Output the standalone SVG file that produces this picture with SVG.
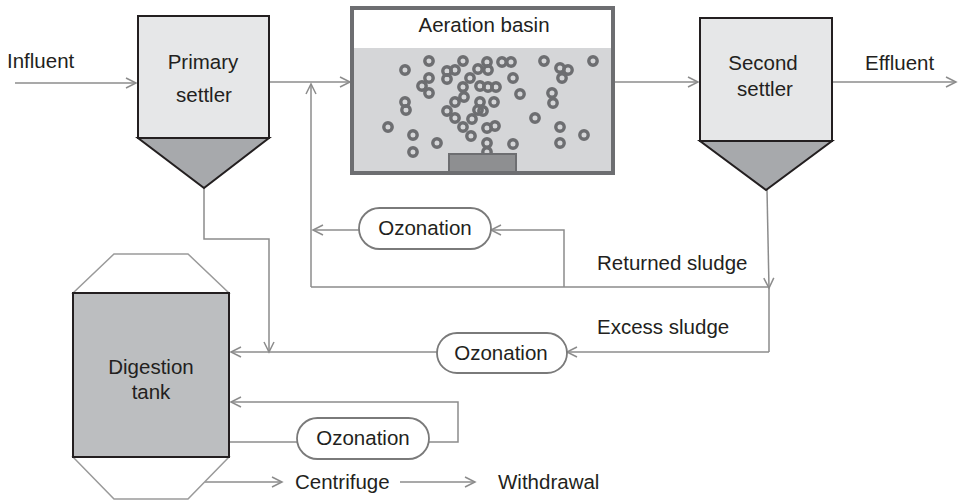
<svg xmlns="http://www.w3.org/2000/svg" width="958" height="500" viewBox="0 0 958 500">
<style>
text{font-family:"Liberation Sans",Arial,sans-serif;font-size:20.5px;fill:#231f20;text-anchor:middle}
.t{text-anchor:start}
.ln{fill:none;stroke:#8c8c8c;stroke-width:1.5}
.arr{marker-end:url(#ah)}
.settler{fill:#e6e7e8;stroke:#231f20;stroke-width:2}
.cone{fill:#a7a9ac;stroke:#231f20;stroke-width:2}
.pill{fill:#fff;stroke:#7a7a7a;stroke-width:1.8}
.bub circle{fill:none;stroke:#6d6e71;stroke-width:3.4;r:4.2}
</style>
<defs>
<marker id="ah" markerUnits="userSpaceOnUse" markerWidth="14" markerHeight="14" refX="11" refY="6" orient="auto">
<path d="M1,1 L11,6 L1,11" fill="none" stroke="#8c8c8c" stroke-width="1.5"/>
</marker>
</defs>

<g id="connectors">
<line class="ln arr" x1="15" y1="83" x2="136" y2="83"/>
<line class="ln arr" x1="270" y1="82" x2="350" y2="82"/>
<line class="ln arr" x1="614" y1="82" x2="698" y2="82"/>
<line class="ln arr" x1="833" y1="82" x2="956" y2="82"/>
<polyline class="ln arr" points="311,287 311,84"/>
<polyline class="ln arr" points="767,190 769,288"/>
<polyline class="ln" points="311,287 769,287 769,352"/>
<polyline class="ln arr" points="564,287 564,230 491,230"/>
<polyline class="ln arr" points="359,230 313,230"/>
<polyline class="ln arr" points="769,352 567,352"/>
<polyline class="ln arr" points="437,352 231,352"/>
<polyline class="ln arr" points="204,188 204,239 269,239 269,352"/>
<polyline class="ln arr" points="429,442 458,442 458,402 231,402"/>
<polyline class="ln" points="297,442 229,442"/>
<polyline class="ln arr" points="205,482 282,482"/>
<polyline class="ln arr" points="400,482 475,482"/>
</g>

<g id="influent"><text class="t" x="7" y="68">Influent</text></g>
<g id="effluent"><text class="t" x="865" y="70">Effluent</text></g>

<g id="primary-settler">
<rect class="settler" x="138" y="16" width="131" height="122"/>
<polygon class="cone" points="138,138 269,138 204,188"/>
<text x="203" y="69">Primary</text>
<text x="204" y="102">settler</text>
</g>

<g id="aeration-basin">
<rect x="352" y="8" width="261" height="165" fill="#fff"/>
<rect x="352" y="48" width="261" height="125" fill="#d5d6d8"/>
<g class="bub">
<circle cx="405" cy="70"/><circle cx="429" cy="61"/><circle cx="447" cy="71"/><circle cx="455" cy="70"/><circle cx="463" cy="61"/>
<circle cx="487" cy="62"/><circle cx="502" cy="62"/><circle cx="511" cy="62"/><circle cx="544" cy="61"/><circle cx="478" cy="69"/>
<circle cx="488" cy="70"/><circle cx="429" cy="78"/><circle cx="447" cy="79"/><circle cx="470" cy="78"/><circle cx="513" cy="78"/>
<circle cx="422" cy="86"/><circle cx="429" cy="93"/><circle cx="463" cy="87"/><circle cx="480" cy="86"/>
<circle cx="488" cy="87"/><circle cx="496" cy="87"/><circle cx="520" cy="94"/><circle cx="464" cy="97"/><circle cx="405" cy="102"/>
<circle cx="406" cy="110"/><circle cx="455" cy="102"/><circle cx="480" cy="102"/><circle cx="478" cy="110"/><circle cx="483" cy="111"/>
<circle cx="494" cy="102"/><circle cx="447" cy="111"/><circle cx="455" cy="118"/><circle cx="472" cy="119"/><circle cx="535" cy="118"/>
<circle cx="388" cy="127"/><circle cx="463" cy="127"/><circle cx="487" cy="128"/><circle cx="495" cy="126"/><circle cx="413" cy="135"/>
<circle cx="471" cy="136"/><circle cx="437" cy="143"/><circle cx="513" cy="144"/><circle cx="487" cy="143"/><circle cx="413" cy="152"/>
<circle cx="487" cy="152"/><circle cx="560" cy="68"/><circle cx="568" cy="70"/><circle cx="593" cy="61"/><circle cx="562" cy="78"/>
<circle cx="552" cy="93"/><circle cx="553" cy="103"/><circle cx="560" cy="127"/><circle cx="584" cy="135"/><circle cx="560" cy="143"/>
</g>
<rect x="449" y="154" width="67" height="18" fill="#8e8f91" stroke="#6d6e71" stroke-width="2"/>
<rect x="352" y="8" width="261" height="165" fill="none" stroke="#6d6e71" stroke-width="4"/>
<text x="484" y="32">Aeration basin</text>
</g>

<g id="second-settler">
<rect class="settler" x="700" y="18" width="132" height="123"/>
<polygon class="cone" points="700,141 832,141 766,190"/>
<text x="763" y="70">Second</text>
<text x="765" y="96">settler</text>
</g>

<g id="ozonation-1">
<rect class="pill" x="359" y="208" width="132" height="41" rx="20.5"/>
<text x="425" y="235">Ozonation</text>
</g>
<g id="returned-sludge"><text class="t" x="597" y="270">Returned sludge</text></g>
<g id="excess-sludge"><text class="t" x="597" y="334">Excess sludge</text></g>

<g id="ozonation-2">
<rect class="pill" x="437" y="333" width="130" height="40" rx="20"/>
<text x="501" y="360">Ozonation</text>
</g>

<g id="digestion-tank">
<polygon points="73,293 114,254 188,254 229,293" fill="#fff" stroke="#9a9a9a" stroke-width="1.5"/>
<polygon points="73,457 114,499 188,499 229,457" fill="#fff" stroke="#9a9a9a" stroke-width="1.5"/>
<rect x="73" y="293" width="156" height="164" fill="#bcbec0" stroke="#231f20" stroke-width="2"/>
<text x="151" y="374">Digestion</text>
<text x="151" y="399">tank</text>
</g>

<g id="ozonation-3">
<rect class="pill" x="297" y="418" width="132" height="41" rx="20.5"/>
<text x="363" y="445">Ozonation</text>
</g>

<g id="centrifuge"><text class="t" x="295" y="489">Centrifuge</text></g>
<g id="withdrawal"><text class="t" x="498" y="489">Withdrawal</text></g>
</svg>
